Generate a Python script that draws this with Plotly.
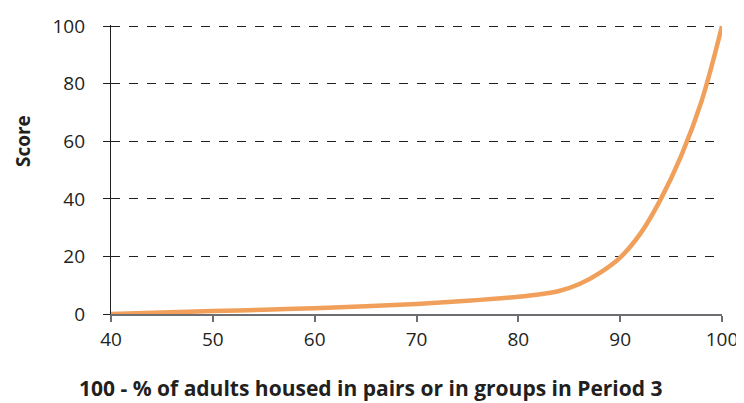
import plotly.graph_objects as go

x_vals = [40, 45, 50, 55, 60, 65, 70, 75, 80, 82, 84, 86, 88, 90, 92, 94, 96, 98, 100]
scores = [0, 0.5, 1.0, 1.5, 2.0, 2.7, 3.5, 4.6, 6.0, 6.8, 8.0, 10.4, 14.3, 19.6, 28, 40, 55, 74, 100]
x_ticks = [40, 50, 60, 70, 80, 90, 100]
y_ticks = [0, 20, 40, 60, 80, 100]
x_title = "100 - % of adults housed in pairs or in groups in Period 3"
y_title = "Score"

fig = go.Figure()
fig.add_trace(go.Scatter(
    x=x_vals, y=scores, mode="lines",
    line=dict(color="#F0A05A", width=4.5, shape="spline", smoothing=1.0),
    hoverinfo="skip", showlegend=False,
))

font_family = "Open Sans, Noto Sans, sans-serif"
# page body has an 8px default margin, so the figure is sized to fit the window
fig.update_layout(
    width=736, height=395,
    margin=dict(l=103, r=22, t=17, b=89),
    paper_bgcolor="white", plot_bgcolor="white",
    font=dict(family=font_family, size=19, color="#231f20"),
    xaxis=dict(
        range=[40, 100], tickvals=x_ticks, showgrid=False, zeroline=False,
        showline=True, linecolor="#6d6e71", linewidth=1.5,
        ticks="outside", ticklen=6, tickcolor="#6d6e71", tickwidth=1.5,
        tickfont=dict(size=19), ticklabelstandoff=1, automargin=False,
    ),
    yaxis=dict(
        range=[0, 100.4], tickvals=y_ticks, showgrid=True, gridcolor="#231f20",
        griddash="dash", gridwidth=1, zeroline=False,
        showline=True, linecolor="#231f20", linewidth=1.2,
        ticks="outside", ticklen=7, tickcolor="#231f20", tickwidth=1,
        tickfont=dict(size=19), ticklabelstandoff=14, automargin=False,
    ),
    annotations=[
        dict(text="<b>" + x_title + "</b>", xref="paper", yref="paper",
             x=0.4255, y=-0.256, xanchor="center", yanchor="middle",
             showarrow=False, font=dict(size=21)),
        dict(text="<b>" + y_title + "</b>", xref="paper", yref="paper",
             x=-0.1440, y=0.5985, xanchor="center", yanchor="middle",
             textangle=-90, showarrow=False, borderpad=0, font=dict(size=19)),
    ],
)

fig.write_html("out.html")
